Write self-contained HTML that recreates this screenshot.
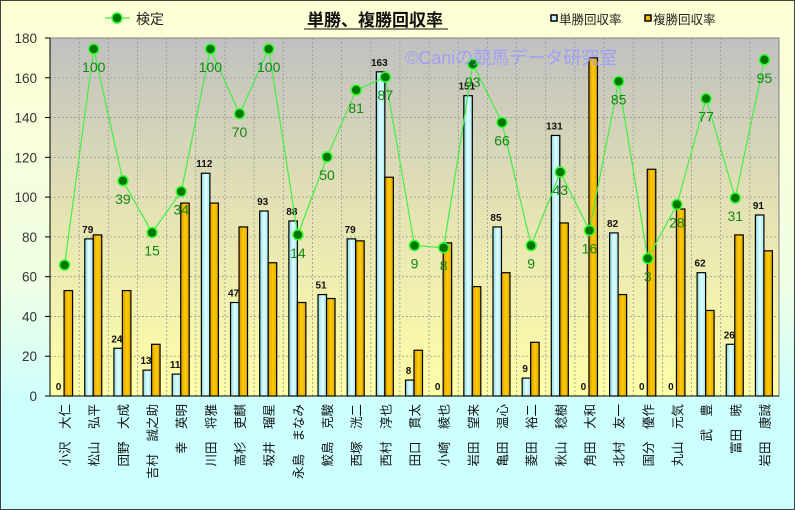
<!DOCTYPE html>
<html><head><meta charset="utf-8"><style>
html,body{margin:0;padding:0;background:#fff}
svg{display:block}
text{font-family:"Liberation Sans","Noto Sans CJK JP",sans-serif}
</style></head><body>
<svg id="s" width="795" height="510" xmlns="http://www.w3.org/2000/svg">
<defs>
<linearGradient id="bg" x1="0" y1="0" x2="0" y2="1"><stop offset="0" stop-color="#ffffd4"/><stop offset="0.55" stop-color="#f0ffe4"/><stop offset="0.8" stop-color="#ccffff"/><stop offset="1" stop-color="#ccffff"/></linearGradient>
<linearGradient id="pa" x1="0" y1="0" x2="0" y2="1"><stop offset="0" stop-color="#c0c0c0"/><stop offset="0.5" stop-color="#e6e4b4"/><stop offset="1" stop-color="#ffffa8"/></linearGradient>
<linearGradient id="bl" x1="0" y1="0" x2="1" y2="0"><stop offset="0" stop-color="#88d8e0"/><stop offset="0.5" stop-color="#e0ffff"/><stop offset="1" stop-color="#a8e8f0"/></linearGradient>
<linearGradient id="yl" x1="0" y1="0" x2="1" y2="0"><stop offset="0" stop-color="#d89800"/><stop offset="0.5" stop-color="#ffcc00"/><stop offset="1" stop-color="#e0a800"/></linearGradient>
</defs>
<rect x="0.5" y="0.5" width="794" height="509" fill="url(#bg)" stroke="#404040"/>
<rect x="50" y="38" width="729" height="358" fill="url(#pa)" stroke="#808080"/>
<g id="g"></g>
<line x1="50" y1="38" x2="50" y2="396" stroke="#000"/>
<line x1="50" y1="396" x2="779" y2="396" stroke="#000"/>
<line x1="105" y1="18" x2="130" y2="18" stroke="#44ee44" stroke-width="1.2"/>
<circle cx="117" cy="18" r="5" fill="#007700" stroke="#33ff33" stroke-width="1.5"/>
<text x="136" y="24" font-size="14" fill="#222">検定</text>
<text x="375" y="26" font-size="17" font-weight="bold" text-anchor="middle" fill="#111">単勝、複勝回収率</text>
<line x1="304" y1="29" x2="448" y2="29" stroke="#111"/>
<rect x="551" y="15" width="6" height="6" fill="#c8f4f8" stroke="#000" stroke-width="1.5"/>
<text x="559" y="24" font-size="12.5" fill="#222">単勝回収率</text>
<rect x="645" y="15" width="6" height="6" fill="#f0b800" stroke="#000" stroke-width="1.5"/>
<text x="653" y="24" font-size="12.5" fill="#222">複勝回収率</text>
<text x="405" y="64" font-size="18" fill="#9a9aff" fill-opacity="0.85">©Caniの競馬データ研究室</text>
</svg>
<script>
var d=[["小沢 大仁",0,53,0],["松山 弘平",79,81,100],["団野 大成",24,53,39],["吉村 誠之助",13,26,15],["幸 英明",11,97,34],["川田 将雅",112,97,100],["高杉 吏麒",47,85,70],["坂井 瑠星",93,67,100],["永島 まなみ",88,47,14],["鮫島 克駿",51,49,50],["西塚 洸二",79,78,81],["西村 淳也",163,110,87],["田口 貫太",8,23,9],["小崎 綾也",0,77,8],["岩田 望来",151,55,93],["亀田 温心",85,62,66],["菱田 裕二",9,27,9],["秋山 稔樹",131,87,43],["角田 大和",0,170,16],["北村 友一",82,51,85],["国分 優作",0,114,3],["丸山 元気",0,94,28],["武 豊",62,43,77],["富田 暁",26,81,31],["岩田 康誠",91,73,95]];
var h='',W=729/25,k=358/180;
for(var v=0;v<=180;v+=20){var y=396-v*k;if(v>0&&v<180)h+='<line x1="50" y1="'+y+'" x2="779" y2="'+y+'" stroke="#999" stroke-dasharray="2,2" stroke-width="0.8"/>';h+='<line x1="45" y1="'+y+'" x2="50" y2="'+y+'" stroke="#000"/><text x="37" y="'+(y+5)+'" font-size="13.5" fill="#333" text-anchor="end">'+v+'</text>';}
for(var i=1;i<25;i++){var x=50+i*W;h+='<line x1="'+x+'" y1="38" x2="'+x+'" y2="396" stroke="#999" stroke-dasharray="2,2" stroke-width="0.8"/>';}
var pts=[];
d.forEach(function(r,i){var c=50+W*(i+0.5);
var yb=396-r[1]*k,yf=396-r[2]*k;
if(r[1]>0)h+='<rect x="'+(c-9)+'" y="'+yb+'" width="8.5" height="'+(396-yb)+'" fill="url(#bl)" stroke="#000" stroke-width="1.2"/>';
h+='<rect x="'+(c-0.5)+'" y="'+yf+'" width="8.5" height="'+(396-yf)+'" fill="url(#yl)" stroke="#000" stroke-width="1.2"/>';
h+='<text x="'+(c-6)+'" y="'+(yb-6)+'" font-size="10" font-weight="bold" fill="#111" text-anchor="middle">'+r[1]+'</text>';
pts.push([c,265-2.16*r[3]]);
});
var pl=pts.map(function(p){return p[0]+','+p[1]}).join(' ');
h+='<polyline points="'+pl+'" fill="none" stroke="#44ee44" stroke-width="1.2"/>';
d.forEach(function(r,i){var p=pts[i];h+='<circle cx="'+p[0]+'" cy="'+p[1]+'" r="5" fill="#007700" stroke="#33ff33" stroke-width="1.5"/>';
if(i>0)h+='<text x="'+p[0]+'" y="'+(p[1]+23)+'" font-size="14" fill="#118811" text-anchor="middle">'+r[3]+'</text>';
h+='<text x="0" y="0" font-size="12.5" fill="#111" text-anchor="end" transform="translate('+(p[0]+5)+',404) rotate(-90)">'+r[0].replace(' ','\u3000')+'</text>';});
document.getElementById('g').innerHTML=h;
</script>
</body></html>
